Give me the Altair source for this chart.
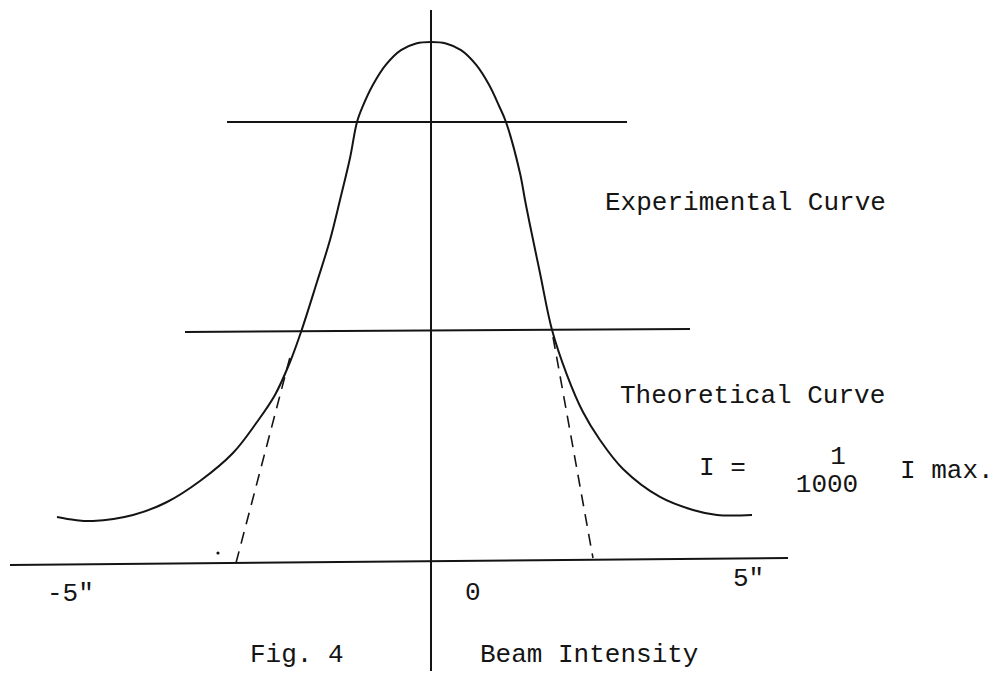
import altair as alt
import pandas as pd

# ---- data (x in arc-seconds, y = relative beam intensity) ----
exp_x = [-5.343, -5.086, -4.829, -4.257, -3.771, -3.300, -2.829, -2.486, -2.229, -2.014,
         -1.857, -1.629, -1.443, -1.300, -1.157, -1.057, -0.971, -0.829, -0.643, -0.429,
         -0.214, 0.0, 0.214, 0.429, 0.643, 0.829, 0.971, 1.071, 1.271, 1.343, 1.414,
         1.557, 1.729, 1.943, 2.171, 2.414, 2.743, 3.271, 3.743, 4.086, 4.586]
exp_y = [0.0883, 0.0825, 0.0806, 0.0921, 0.1171, 0.1574, 0.2111, 0.2706, 0.3225, 0.3858,
         0.4434, 0.5393, 0.6200, 0.6967, 0.7774, 0.8464, 0.8777, 0.9178, 0.9564, 0.9843,
         0.9971, 1.0, 0.9971, 0.9843, 0.9564, 0.9178, 0.8777, 0.8464, 0.7486, 0.6967, 0.6488,
         0.5566, 0.4472, 0.3608, 0.2898, 0.2361, 0.1804, 0.1267, 0.1017, 0.0921, 0.0921]

theo_seg = ["left", "left", "right", "right"]
theo_x = [-2.014, -2.786, 1.743, 2.314]
theo_y = [0.3954, 0.0, 0.4338, 0.0096]

level_x1 = [-2.914, -3.514]
level_x2 = [2.800, 3.700]
level_y1 = [0.8464, 0.4434]
level_y2 = [0.8464, 0.4491]

axis_x1 = [-6.014, 0.0]
axis_x2 = [5.100, 0.0]
axis_y1 = [-0.0038, 1.0614]
axis_y2 = [0.0096, -0.2300]

left_texts = ["Experimental Curve", "Theoretical Curve", "I =", "I max.",
              "-5\"", "0", "5\"", "Fig. 4", "Beam Intensity"]
left_tx = [2.486, 2.700, 3.829, 6.700, -5.486, 0.486, 4.314, -2.586, 0.700]
left_ty = [0.6775, 0.3071, 0.1689, 0.1631, -0.0729, -0.0710, -0.0441, -0.1900, -0.1900]

frac_texts = ["1", "1000"]
frac_tx = [5.814, 5.657]
frac_ty = [0.1900, 0.1363]

dot_x = [-3.043]
dot_y = [0.0192]

# ---- scales ----
W, H = 986, 663
xs = alt.Scale(domain=[-423 / 70, (W - 423) / 70], nice=False, zero=False)
ys = alt.Scale(domain=[(555 - H) / 521, 555 / 521], nice=False, zero=False)
INK = "#141414"
FONT = "Liberation Mono"

exp_df = pd.DataFrame({"x": exp_x, "y": exp_y})
theo_df = pd.DataFrame({"seg": theo_seg, "x": theo_x, "y": theo_y})
lvl_df = pd.DataFrame({"x": level_x1, "x2": level_x2, "y": level_y1, "y2": level_y2})
ax_df = pd.DataFrame({"x": axis_x1, "x2": axis_x2, "y": axis_y1, "y2": axis_y2})
lt_df = pd.DataFrame({"t": left_texts, "x": left_tx, "y": left_ty})
fr_df = pd.DataFrame({"t": frac_texts, "x": frac_tx, "y": frac_ty})
dot_df = pd.DataFrame({"x": dot_x, "y": dot_y})

X = lambda: alt.X("x:Q", scale=xs, axis=None)
Y = lambda: alt.Y("y:Q", scale=ys, axis=None)

axes = alt.Chart(ax_df).mark_rule(color=INK, strokeWidth=2).encode(
    x=X(), x2="x2:Q", y=Y(), y2="y2:Q")
levels = alt.Chart(lvl_df).mark_rule(color=INK, strokeWidth=2).encode(
    x=X(), x2="x2:Q", y=Y(), y2="y2:Q")
exp_line = alt.Chart(exp_df).mark_line(color=INK, strokeWidth=2, interpolate="catmull-rom").encode(
    x=X(), y=Y())
theo_line = alt.Chart(theo_df).mark_line(color=INK, strokeWidth=1.6, strokeDash=[12, 8]).encode(
    x=X(), y=Y(), detail="seg:N")
dots = alt.Chart(dot_df).mark_circle(color=INK, size=10, opacity=1).encode(x=X(), y=Y())
ltext = alt.Chart(lt_df).mark_text(align="left", baseline="alphabetic", font=FONT,
                                   fontSize=26, color=INK).encode(x=X(), y=Y(), text="t:N")
ftext = alt.Chart(fr_df).mark_text(align="center", baseline="alphabetic", font=FONT,
                                   fontSize=26, color=INK).encode(x=X(), y=Y(), text="t:N")

chart = alt.layer(axes, levels, exp_line, theo_line, dots, ltext, ftext).properties(
    width=W, height=H, autosize=alt.AutoSizeParams(type="none"),
    padding={"left": 0, "right": 0, "top": 0, "bottom": 0}, background="white"
).configure_view(stroke=None)

chart.save("out.html", embed_options={"renderer": "svg", "actions": False})
